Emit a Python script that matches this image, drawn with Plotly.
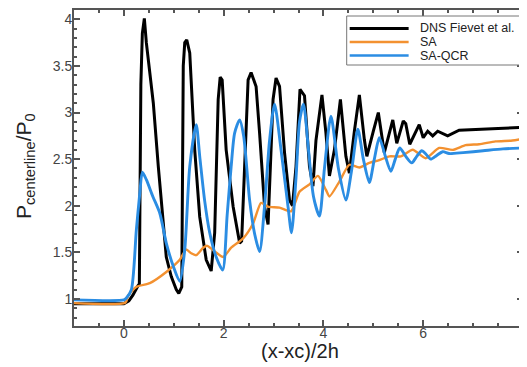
import plotly.graph_objects as go

# ---------------- data ----------------
dns_x = [-1.0, 0.0, 0.1, 0.18, 0.28, 0.31, 0.34, 0.37, 0.41, 0.45, 0.59, 0.69, 0.85, 0.95,
         1.05, 1.10, 1.16, 1.19, 1.22, 1.26, 1.32, 1.42, 1.52, 1.65, 1.75, 1.82, 1.89, 1.93,
         1.97, 2.05, 2.19, 2.32, 2.36, 2.42, 2.49, 2.55, 2.65, 2.72, 2.82, 2.89, 2.99, 3.05,
         3.12, 3.22, 3.32, 3.38, 3.45, 3.53, 3.62, 3.72, 3.79, 3.85, 3.97, 4.05, 4.12, 4.22,
         4.34, 4.45, 4.52, 4.62, 4.72, 4.82, 4.87, 5.0, 5.10, 5.22, 5.39, 5.47, 5.60, 5.65,
         5.73, 5.92, 6.0, 6.09, 6.19, 6.29, 6.49, 6.72, 7.0, 7.5, 8.0]
dns_y = [0.95, 0.95, 0.98, 1.04, 1.14, 1.16, 3.3, 3.85, 4.01, 3.75, 3.10, 2.42, 1.45, 1.24,
         1.10, 1.06, 1.13, 3.5, 3.75, 3.78, 3.64, 2.60, 1.88, 1.42, 1.30, 1.71, 3.14, 3.38,
         3.35, 2.60, 1.99, 1.60, 1.62, 2.42, 3.35, 3.43, 3.28, 2.78, 1.99, 1.80, 3.14, 3.37,
         3.28, 2.57, 2.06, 2.0, 2.42, 3.25, 3.18, 2.42, 2.21, 2.7, 3.19, 2.78, 2.32, 2.6,
         3.14, 2.53, 2.35, 2.8, 3.19, 2.71, 2.53, 2.8, 3.00, 2.57, 2.92, 2.67, 2.91, 2.88,
         2.66, 2.87, 2.73, 2.80, 2.75, 2.80, 2.75, 2.81, 2.82, 2.83, 2.84]

sa_x = [-1.0, 0.03, 0.09, 0.25, 0.52, 0.85, 1.12, 1.25, 1.35, 1.45, 1.59, 1.67, 1.82, 1.99,
        2.15, 2.39, 2.59, 2.75, 2.89, 3.12, 3.35, 3.52, 3.72, 3.89, 4.05, 4.12, 4.32, 4.52,
        4.72, 4.92, 5.12, 5.32, 5.55, 5.79, 6.05, 6.32, 6.59, 6.85, 7.12, 7.45, 7.79, 8.0]
sa_y = [0.955, 0.96, 1.04, 1.13, 1.17, 1.29, 1.42, 1.53, 1.49, 1.47, 1.55, 1.57, 1.51, 1.45,
        1.55, 1.65, 1.81, 2.03, 1.99, 1.98, 1.94, 2.15, 2.23, 2.32, 2.17, 2.10, 2.26, 2.44,
        2.41, 2.46, 2.49, 2.53, 2.53, 2.60, 2.51, 2.62, 2.60, 2.65, 2.66, 2.69, 2.70, 2.72]

qcr_x = [-1.0, 0.0, 0.05, 0.15, 0.25, 0.32, 0.37, 0.45, 0.58, 0.72, 0.85, 0.99, 1.12, 1.22,
         1.32, 1.45, 1.52, 1.62, 1.72, 1.85, 1.98, 2.07, 2.15, 2.22, 2.32, 2.40, 2.52, 2.62,
         2.72, 2.82, 2.92, 3.02, 3.15, 3.29, 3.36, 3.45, 3.52, 3.60, 3.70, 3.80, 3.92, 4.02,
         4.15, 4.30, 4.45, 4.57, 4.69, 4.80, 4.92, 5.02, 5.12, 5.23, 5.35, 5.44, 5.53, 5.65,
         5.77, 5.87, 5.97, 6.06, 6.15, 6.27, 6.39, 6.52, 6.8, 7.2, 7.6, 8.0]
qcr_y = [0.99, 0.99, 1.01, 1.10, 1.74, 2.14, 2.36, 2.28, 2.10, 1.92, 1.60, 1.35, 1.19, 1.53,
         2.42, 2.87, 2.53, 2.05, 1.71, 1.45, 1.31, 1.9, 2.42, 2.78, 2.92, 2.75, 2.06, 1.7,
         1.51, 2.0, 2.7, 3.09, 2.60, 1.99, 1.71, 2.3, 2.9, 3.09, 2.6, 2.1, 1.89, 2.4,
         2.96, 2.4, 2.06, 2.4, 2.82, 2.5, 2.25, 2.5, 2.73, 2.55, 2.37, 2.5, 2.62, 2.53,
         2.46, 2.53, 2.59, 2.55, 2.50, 2.54, 2.58, 2.56, 2.57, 2.59, 2.61, 2.62]

series_names = ["DNS Fievet et al.", "SA", "SA-QCR"]
series_colors = ["#000000", "#F39130", "#2B8DE3"]
x_ticks = [0, 2, 4, 6, 8]
y_ticks = [1, 1.5, 2, 2.5, 3, 3.5, 4]
x_title = "(x-xc)/2h"
y_title = "P<sub>centerline</sub>/P<sub>0</sub>"

# ---------------- figure ----------------
# The page's default 8px body margin offsets the figure; size it so the plot
# lands where the reference has it inside the 527x367 window.
OFF = 8
W, H = 527 - OFF, 367 - OFF
ML, MR, MT, MB = 74 - OFF, 3.5, 10 - OFF, 41
PW, PH = W - ML - MR, H - MT - MB

def px(xr):
    """window x pixel -> paper coordinate"""
    return (xr - OFF - ML) / PW

def py(yr):
    """window y pixel -> paper coordinate"""
    return (H - MB - (yr - OFF)) / PH

FONT = "Liberation Sans, Arial, Helvetica, sans-serif"
AX = "#555555"

fig = go.Figure()
fig.add_trace(go.Scatter(x=dns_x, y=dns_y, mode="lines", name=series_names[0],
                         line=dict(color=series_colors[0], width=3), showlegend=False))
fig.add_trace(go.Scatter(x=sa_x, y=sa_y, mode="lines", name=series_names[1],
                         line=dict(color=series_colors[1], width=2.4, shape="spline", smoothing=0.6),
                         showlegend=False))
fig.add_trace(go.Scatter(x=qcr_x, y=qcr_y, mode="lines", name=series_names[2],
                         line=dict(color=series_colors[2], width=2.9, shape="spline", smoothing=0.7),
                         showlegend=False))

# manual legend (compact, like the reference)
shapes = [dict(type="rect", xref="paper", yref="paper", x0=px(347), x1=px(521), y0=py(65), y1=py(16),
               line=dict(color="#777777", width=1), fillcolor="white", layer="above")]
annotations = []
for i, (nm, col) in enumerate(zip(series_names, series_colors)):
    yy = 28.5 + i * 13.5
    shapes.append(dict(type="line", xref="paper", yref="paper", x0=px(350), x1=px(409),
                       y0=py(yy), y1=py(yy), line=dict(color=col, width=3 if i == 0 else 2.6),
                       layer="above"))
    annotations.append(dict(xref="paper", yref="paper", x=px(418), y=py(yy), text=nm,
                            showarrow=False, xanchor="left", yanchor="middle",
                            font=dict(family=FONT, size=12.5, color="#222222")))

# axis titles, placed where the reference has them
annotations.append(dict(xref="paper", yref="paper", x=px(300), y=py(351), text=x_title,
                        showarrow=False, xanchor="center", yanchor="middle",
                        font=dict(family=FONT, size=20, color="#222222")))
annotations.append(dict(xref="paper", yref="paper", x=px(25), y=py(166), text=y_title,
                        showarrow=False, xanchor="center", yanchor="middle", textangle=-90,
                        font=dict(family=FONT, size=21, color="#222222")))

fig.update_layout(
    width=W, height=H,
    margin=dict(l=ML, r=MR, t=MT, b=MB, pad=0, autoexpand=False),
    paper_bgcolor="white", plot_bgcolor="white",
    font=dict(family=FONT, color="#444444"),
    shapes=shapes, annotations=annotations,
    showlegend=False,
)
fig.update_xaxes(
    range=[-1, 8], tickvals=x_ticks, ticks="inside", ticklen=6, tickwidth=1.5, tickcolor=AX,
    showline=True, linecolor=AX, linewidth=2, mirror="allticks",
    showgrid=False, zeroline=False, automargin=False, ticklabeloverflow="allow",
    minor=dict(dtick=0.5, ticks="inside", ticklen=3, tickcolor=AX, showgrid=False),
    tickfont=dict(size=14, color="#444444"), ticklabelstandoff=-7,
)
fig.update_yaxes(
    range=[0.71, 4.1], tickvals=y_ticks, ticks="inside", ticklen=6, tickwidth=1.5, tickcolor=AX,
    showline=True, linecolor=AX, linewidth=2, mirror="allticks",
    showgrid=False, zeroline=False, automargin=False,
    minor=dict(dtick=0.1, ticks="inside", ticklen=3, tickcolor=AX, showgrid=False),
    tickfont=dict(size=14, color="#444444"), ticklabelstandoff=-3,
)

fig.write_html("out.html")
